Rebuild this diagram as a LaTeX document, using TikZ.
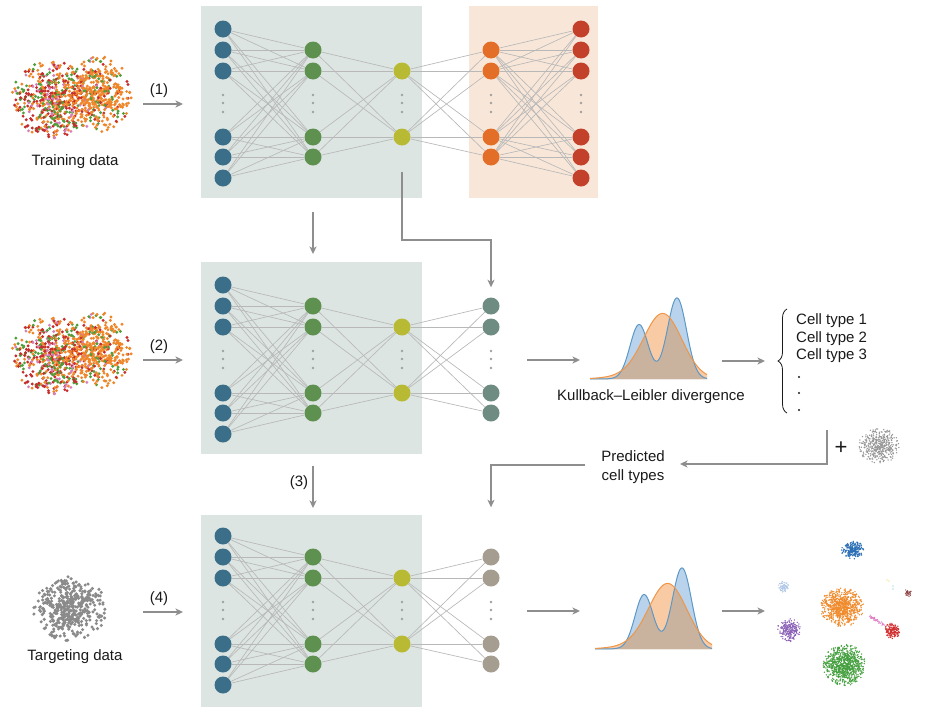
\documentclass[tikz,border=0pt]{standalone}
\usepackage{fontspec}
\setmainfont{Liberation Sans}
\usetikzlibrary{arrows.meta,decorations.pathreplacing}
\pgfdeclarelayer{boxes}
\pgfdeclarelayer{links}
\pgfsetlayers{boxes,links,main}
\definecolor{boxgreen}{HTML}{DCE5E1}
\definecolor{boxorange}{HTML}{F8E7D9}
\definecolor{nblue}{HTML}{3B6E88}
\definecolor{ngreen}{HTML}{5E9150}
\definecolor{nyellow}{HTML}{B9BA33}
\definecolor{norange}{HTML}{E36E27}
\definecolor{nred}{HTML}{C3412B}
\definecolor{nteal}{HTML}{6F8C83}
\definecolor{ntaupe}{HTML}{A59D90}
\definecolor{linkgray}{HTML}{B8B8B8}
\definecolor{dotgray}{HTML}{A0A0A0}
\definecolor{arrowgray}{HTML}{8E8E8E}
\definecolor{txt}{HTML}{1A1A1A}
\definecolor{sorange}{HTML}{F0862A}
\definecolor{sred}{HTML}{C62D2D}
\definecolor{sgreen}{HTML}{4F9E3A}
\definecolor{spink}{HTML}{D57FB8}
\definecolor{sgray}{HTML}{8A8A8A}
\definecolor{bfill}{HTML}{B8D3EB}
\definecolor{ofill}{HTML}{F9CBA5}
\definecolor{ovl}{HTML}{C9B39E}
\definecolor{bline}{HTML}{5E98C6}
\definecolor{oline}{HTML}{EF9648}
\definecolor{cblue}{HTML}{2C6FB5}
\definecolor{clblue}{HTML}{AFC7E8}
\definecolor{corange}{HTML}{F08A2A}
\definecolor{cpurple}{HTML}{8C62B8}
\definecolor{cgreen}{HTML}{45A03F}
\definecolor{cpink}{HTML}{E07FC4}
\definecolor{cred}{HTML}{D12F2F}
\definecolor{cbrown}{HTML}{8E4040}
\definecolor{cyell}{HTML}{E5D84A}
\definecolor{ccyan}{HTML}{5BC0DE}

\newcommand\encoder[2]{%
  \foreach \yy [count=\i] in {29,50,71,137,157,178}{\node[nn,fill=nblue] (#1b\i) at (223,{\yy+#2}) {};}
  \foreach \yy [count=\i] in {50,71,137,157}{\node[nn,fill=ngreen] (#1g\i) at (313,{\yy+#2}) {};}
  \foreach \yy [count=\i] in {71,137}{\node[nn,fill=nyellow] (#1y\i) at (402,{\yy+#2}) {};}
  \begin{pgfonlayer}{links}
  \foreach \i in {1,...,6}{\foreach \j in {1,...,4}{\draw[link] (#1b\i) -- (#1g\j);}}
  \foreach \i in {1,...,4}{\foreach \j in {1,2}{\draw[link] (#1g\i) -- (#1y\j);}}
  \end{pgfonlayer}
  \foreach \xx in {223,313,402}{\foreach \dd in {95,103,112}{\fill[dotgray] (\xx,{\dd+#2}) circle (1.4);}}
}
\newcommand\outlayer[4]{%
  \foreach \yy [count=\i] in {50,71,137,157}{\node[nn,fill=#4] (#1\i) at (#3,{\yy+#2}) {};}
  \foreach \dd in {95,103,112}{\fill[dotgray] (#3,{\dd+#2}) circle (1.4);}
}
% radial gaussian sample, soft-limited at 2.1 sigma
\newcommand\gaussr{%
  \pgfmathsetmacro\pg{sqrt(-2*ln(0.002+0.997*rnd))}
  \pgfmathsetmacro\pg{(\pg>2.1) ? 2.1*sqrt(rnd) : \pg}
  \pgfmathsetmacro\pa{360*rnd}}
% gaussian lobe of mixed colours: cx cy sx sy n porange pred pgreen dotr
\newcommand\lobe[9]{%
  \foreach \i in {1,...,#5}{
    \gaussr
    \pgfmathsetmacro\pv{rnd}
    \pgfmathtruncatemacro\pk{(\pv<#6) ? 0 : ((\pv<(#6+#7)) ? 1 : ((\pv<(#6+#7+#8)) ? 2 : 3))}
    \ifcase\pk \def\pcol{sorange}\or\def\pcol{sred}\or\def\pcol{sgreen}\or\def\pcol{spink}\fi
    \fill[\pcol] ({#1+#3*\pg*cos(\pa)},{#2+#4*\pg*sin(\pa)}) circle (#9);
  }}
\newcommand\trainscatter[2]{%
  \pgfmathsetseed{4242}
  \lobe{#1-19}{#2+3}{19}{19}{500}{0.32}{0.33}{0.24}{1.6}
  \lobe{#1+28}{#2-3}{16}{18}{430}{0.74}{0.11}{0.11}{1.6}
}
\newcommand\blob[7]{%
  \foreach \i in {1,...,#5}{
    \gaussr
    \fill[#6] ({#1+#3*0.47*\pg*cos(\pa)},{#2+#4*0.47*\pg*sin(\pa)}) circle (#7);
  }}
\newcommand\density[2]{%
  \begin{scope}[shift={(#1,#2)}]
    \fill[bfill] (590,379) -- plot[domain=590:707,samples=150] (\x,{379-fb(\x)}) -- (707,379) -- cycle;
    \fill[ofill] (590,379) -- plot[domain=590:707,samples=150] (\x,{379-fo(\x)}) -- (707,379) -- cycle;
    \begin{scope}
      \clip (590,379) -- plot[domain=590:707,samples=150] (\x,{379-fb(\x)}) -- (707,379) -- cycle;
      \fill[ovl] (590,379) -- plot[domain=590:707,samples=150] (\x,{379-fo(\x)}) -- (707,379) -- cycle;
    \end{scope}
    \draw[bline,line width=1pt] plot[domain=590:707,samples=150] (\x,{379-fb(\x)});
    \draw[oline,line width=1pt] plot[domain=590:707,samples=150] (\x,{379-fo(\x)});
  \end{scope}}

\begin{document}
\begin{tikzpicture}[x=1pt,y=-1pt,
  declare function={fb(\q)=53*exp(-((\q-639)*(\q-639))/162)+80*exp(-((\q-677)*(\q-677))/180.5)+2*exp(-((\q-655)*(\q-655))/800);
                    fo(\q)=64*exp(-((\q-663)*(\q-663))/722)+3*exp(-((\q-635)*(\q-635))/1200);},
  nn/.style={circle,inner sep=0pt,minimum size=17pt},
  link/.style={draw=linkgray,line width=0.65pt},
  flow/.style={draw=arrowgray,line width=1.3pt,-{Stealth[length=7.5pt,width=7pt,inset=2pt]}},
  lbl/.style={font=\fontsize{15}{19}\selectfont,text=txt,inner sep=0pt},
  panel/.style={inner sep=0pt,minimum height=192pt}]
\useasboundingbox (0,0) rectangle (925,715);
\begin{pgfonlayer}{boxes}
  \fill[white] (0,0) rectangle (925,715);
  \node[panel,fill=boxgreen,minimum width=221pt] (boxT) at (311.5,102) {};
  \node[panel,fill=boxorange,minimum width=129pt] (boxD) at (533.5,102) {};
  \node[panel,fill=boxgreen,minimum width=221pt] (boxM) at (311.5,358) {};
  \node[panel,fill=boxgreen,minimum width=221pt] (boxB) at (311.5,611) {};
\end{pgfonlayer}

% top autoencoder
\encoder{T}{0}
\outlayer{To}{0}{491}{norange}
\foreach \yy [count=\i] in {29,50,71,137,157,178}{\node[nn,fill=nred] (Tr\i) at (581,\yy) {};}
\foreach \dd in {95,103,112}{\fill[dotgray] (581,\dd) circle (1.4);}
\begin{pgfonlayer}{links}
  \foreach \i in {1,2}{\foreach \j in {1,...,4}{\draw[link] (Ty\i) -- (To\j);}}
  \foreach \i in {1,...,4}{\foreach \j in {1,...,6}{\draw[link] (To\i) -- (Tr\j);}}
\end{pgfonlayer}

% middle network
\encoder{M}{256}
\outlayer{Mo}{256}{491}{nteal}
\begin{pgfonlayer}{links}
  \foreach \i in {1,2}{\foreach \j in {1,...,4}{\draw[link] (My\i) -- (Mo\j);}}
\end{pgfonlayer}

% bottom network
\encoder{B}{507}
\outlayer{Bo}{507}{491}{ntaupe}
\begin{pgfonlayer}{links}
  \foreach \i in {1,2}{\foreach \j in {1,...,4}{\draw[link] (By\i) -- (Bo\j);}}
\end{pgfonlayer}

% scatter plots
\trainscatter{70}{97}
\trainscatter{70}{353}
\pgfmathsetseed{99}
\blob{70}{609}{37}{33}{420}{sgray}{1.7}
\blob{879}{446}{21}{18}{420}{sgray!90}{0.75}

% clusters
\pgfmathsetseed{12}
\blob{853}{550}{12}{9}{220}{cblue}{0.75}
\blob{784}{587}{6}{6}{70}{clblue}{0.65}
\blob{842}{607}{22}{20}{800}{corange}{0.75}
\blob{789}{630}{12}{12}{220}{cpurple}{0.75}
\blob{844}{665}{22}{21}{850}{cgreen}{0.75}
\blob{892}{631}{8}{8}{140}{cred}{0.75}
\blob{908}{593}{4}{4}{35}{cbrown}{0.65}
\foreach \i in {1,...,45}{
  \pgfmathsetmacro\ps{rnd}
  \fill[cpink] ({870+14*\ps+2*rnd-1},{616+9*\ps+2.5*rnd-1.2}) circle (0.65);}
\fill[cyell] (887,580) circle (0.7) (889,581) circle (0.7);
\fill[ccyan] (893,586) circle (0.7) (893,589) circle (0.7);

% density plots
\density{0}{0}
\density{5}{270}

% labels
\node[lbl] (trainlbl) at (75,162) {Training data};
\node[lbl] (targlbl) at (75,657) {Targeting data};
\node[lbl] (s1) at (159,91) {(1)};
\node[lbl] (s2) at (159,347) {(2)};
\node[lbl] (s3) at (299,483) {(3)};
\node[lbl] (s4) at (159,599) {(4)};
\node[lbl] (kl) at (651,397) {Kullback–Leibler divergence};
\node[lbl,align=center] (pred) at (633,467) {Predicted\\cell types};
\node[lbl,anchor=west] (ct1) at (796,321) {Cell type 1};
\node[lbl,anchor=west] (ct2) at (796,339) {Cell type 2};
\node[lbl,anchor=west] (ct3) at (796,356) {Cell type 3};
\foreach \dd in {377,393,410}{\fill[txt] (799,\dd) circle (1.1);}
\node[font=\fontsize{22}{22}\selectfont,text=txt,inner sep=0pt] (plus) at (841,448) {+};
\draw[decorate,decoration={brace,amplitude=9pt},line width=0.8pt,txt] (787,413) -- (787,309);

% arrows
\coordinate (a1s) at (143,104); \coordinate (a1e) at (183,104);
\coordinate (a2s) at (143,360); \coordinate (a2e) at (183,360);
\coordinate (a4s) at (143,612); \coordinate (a4e) at (183,612);
\draw[flow] (a1s) -- (a1e);
\draw[flow] (a2s) -- (a2e);
\draw[flow] (a4s) -- (a4e);
\coordinate (v1s) at (313,212); \coordinate (v1e) at (313,254);
\draw[flow] (v1s) -- (v1e);
\coordinate (v3s) at (313,466); \coordinate (v3e) at (313,508);
\draw[flow] (v3s) -- (v3e);
\coordinate (ylS) at (402,172); \coordinate (ylC) at (402,240);
\draw[flow] (ylS) -- (ylC) -| ([yshift=10pt]Mo1.north);
\coordinate (m1s) at (527,360); \coordinate (m1e) at (580,360);
\draw[flow] (m1s) -- (m1e);
\coordinate (m2s) at (722,361); \coordinate (m2e) at (765,361);
\draw[flow] (m2s) -- (m2e);
\coordinate (b1s) at (527,611); \coordinate (b1e) at (580,611);
\draw[flow] (b1s) -- (b1e);
\coordinate (b2s) at (722,611); \coordinate (b2e) at (765,611);
\draw[flow] (b2s) -- (b2e);
\coordinate (brS) at (827,430); \coordinate (brE) at (680,464);
\draw[flow] (brS) |- (brE);
\coordinate (prS) at (585,465);
\draw[flow] (prS) -| ([yshift=41pt]Bo1.north);
\end{tikzpicture}
\end{document}
